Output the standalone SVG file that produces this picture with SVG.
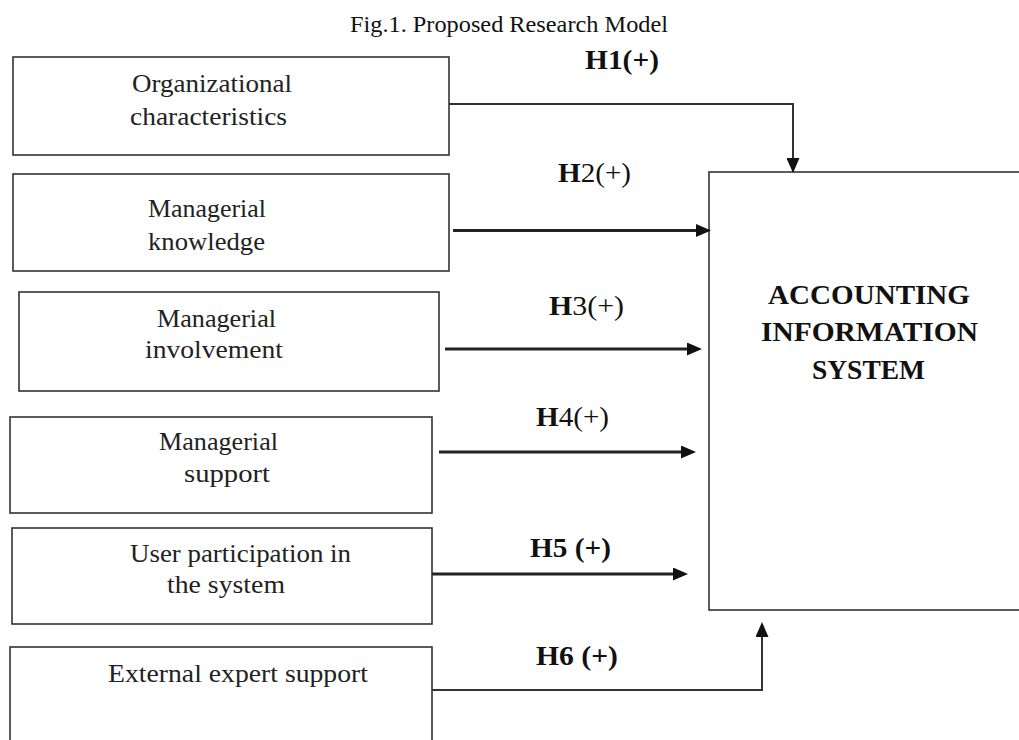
<svg xmlns="http://www.w3.org/2000/svg" width="1019" height="740" viewBox="0 0 1019 740">
<style>
.box{fill:#fff;stroke:#333;stroke-width:1.6}
.lbl{font-family:"Liberation Serif",serif;font-size:25px;fill:#222}
.ais{font-family:"Liberation Serif",serif;font-size:27px;font-weight:bold;fill:#111}
.hyp{font-family:"Liberation Serif",serif;font-size:27px;fill:#111}
.title{font-family:"Liberation Serif",serif;font-size:23px;fill:#111}
.thin{fill:none;stroke:#333;stroke-width:2}
.thick{fill:none;stroke:#222;stroke-width:2.8}
</style>
<defs>
<marker id="ah" markerUnits="userSpaceOnUse" viewBox="0 0 15 13" refX="4" refY="6.5" markerWidth="15" markerHeight="13" orient="auto">
<path d="M0,0 L15,6.5 L0,13 Z" fill="#111"/>
</marker>
</defs>
<rect width="1019" height="740" fill="#fff"/>
<text class="title" x="350" y="31.5" textLength="318" lengthAdjust="spacingAndGlyphs">Fig.1. Proposed Research Model</text>

<g id="ais">
<rect class="box" x="709" y="172" width="330" height="438"/>
<text class="ais" x="768" y="304" textLength="202" lengthAdjust="spacingAndGlyphs">ACCOUNTING</text>
<text class="ais" x="761" y="341" textLength="217" lengthAdjust="spacingAndGlyphs">INFORMATION</text>
<text class="ais" x="812" y="379" textLength="113" lengthAdjust="spacingAndGlyphs">SYSTEM</text>
</g>

<g id="n1">
<rect class="box" x="13" y="57" width="436" height="98"/>
<text class="lbl" x="132" y="91.5" textLength="160" lengthAdjust="spacingAndGlyphs">Organizational</text>
<text class="lbl" x="130" y="125" textLength="157" lengthAdjust="spacingAndGlyphs">characteristics</text>
</g>
<g id="n2">
<rect class="box" x="13" y="174" width="436" height="97"/>
<text class="lbl" x="148" y="217" textLength="118" lengthAdjust="spacingAndGlyphs">Managerial</text>
<text class="lbl" x="148" y="250" textLength="117" lengthAdjust="spacingAndGlyphs">knowledge</text>
</g>
<g id="n3">
<rect class="box" x="19" y="292" width="420" height="99"/>
<text class="lbl" x="157" y="326.5" textLength="119" lengthAdjust="spacingAndGlyphs">Managerial</text>
<text class="lbl" x="145" y="358" textLength="138" lengthAdjust="spacingAndGlyphs">involvement</text>
</g>
<g id="n4">
<rect class="box" x="10" y="417" width="422" height="96"/>
<text class="lbl" x="159" y="450" textLength="119" lengthAdjust="spacingAndGlyphs">Managerial</text>
<text class="lbl" x="184" y="481.5" textLength="86" lengthAdjust="spacingAndGlyphs">support</text>
</g>
<g id="n5">
<rect class="box" x="12" y="528" width="420" height="96"/>
<text class="lbl" x="130" y="561.5" textLength="221" lengthAdjust="spacingAndGlyphs">User participation in</text>
<text class="lbl" x="167" y="592.5" textLength="118" lengthAdjust="spacingAndGlyphs">the system</text>
</g>
<g id="n6">
<rect class="box" x="10" y="647" width="422" height="120"/>
<text class="lbl" x="108" y="681.5" textLength="260" lengthAdjust="spacingAndGlyphs">External expert support</text>
</g>

<g id="connectors">
<path class="thin" d="M449,104 H793 V162" marker-end="url(#ah)"/>
<path class="thick" d="M453,230.5 H700" marker-end="url(#ah)"/>
<path class="thick" d="M445,349 H691" marker-end="url(#ah)"/>
<path class="thick" d="M439,452 H685" marker-end="url(#ah)"/>
<path class="thick" d="M432,574 H677" marker-end="url(#ah)"/>
<path class="thin" d="M432,690 H762 V633" marker-end="url(#ah)"/>
<text class="hyp" x="585" y="69" textLength="74" lengthAdjust="spacingAndGlyphs" font-weight="bold">H1(+)</text>
<text class="hyp" x="558" y="181.5" textLength="73" lengthAdjust="spacingAndGlyphs"><tspan font-weight="bold">H</tspan>2(+)</text>
<text class="hyp" x="549" y="315" textLength="75" lengthAdjust="spacingAndGlyphs"><tspan font-weight="bold">H</tspan>3(+)</text>
<text class="hyp" x="536" y="426" textLength="73" lengthAdjust="spacingAndGlyphs"><tspan font-weight="bold">H</tspan>4(+)</text>
<text class="hyp" x="530" y="557" textLength="81" lengthAdjust="spacingAndGlyphs" font-weight="bold">H5 (+)</text>
<text class="hyp" x="536" y="665" textLength="82" lengthAdjust="spacingAndGlyphs" font-weight="bold">H6 (+)</text>
</g>
</svg>
